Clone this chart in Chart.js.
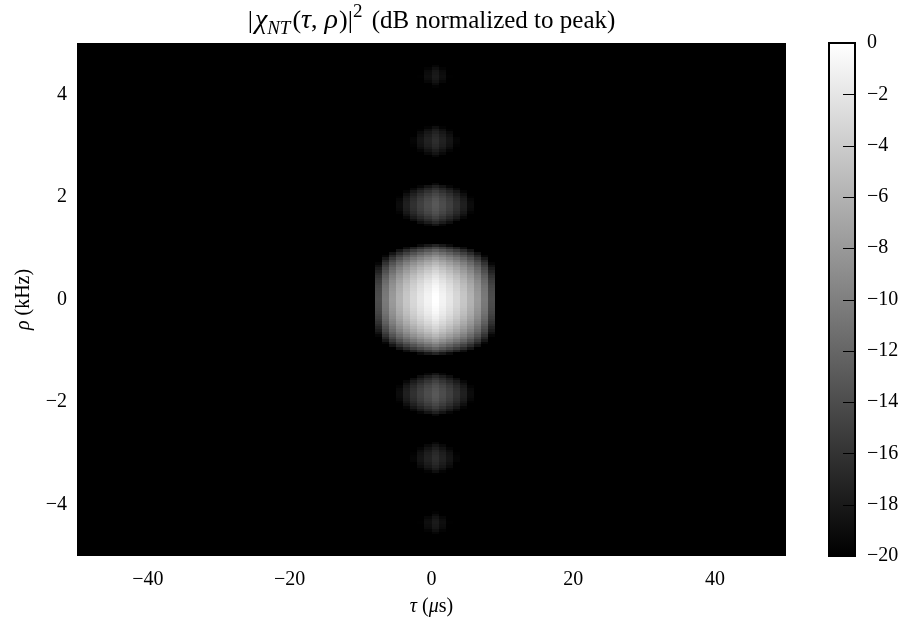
<!DOCTYPE html>
<html>
<head>
<meta charset="utf-8">
<script src="https://cdn.jsdelivr.net/npm/chart.js@4.4.1/dist/chart.umd.min.js"></script>
<style>
    html, body { margin: 0; padding: 0; background: #fff; }
    #wrap { position: relative; width: 902px; height: 620px; }
    #wrap canvas { position: absolute; left: 0; top: 0; }
</style>
</head>
<body>
<div id="wrap">
    <canvas id="map" width="902" height="620"></canvas>
    <canvas id="bar" width="902" height="620"></canvas>
</div>
<script>
const SERIF = '"Liberation Serif", "Times New Roman", serif';

// delay columns (µs), each cell spans [tau, tau + 1]
const tauColumns = [-8, -7, -6, -5, -4, -3, -2, -1, 0, 1, 2, 3, 4, 5, 6, 7, 8];
// level across delay, read along the rho = 0 row (dB)
const tauProfileDb = [-13.98, -10.46, -7.96, -6.02, -4.44, -3.10, -1.94, -0.92, 0,
                      -0.92, -1.94, -3.10, -4.44, -6.02, -7.96, -10.46, -13.98];

// Doppler rows (kHz), positive half; the picture is mirrored about rho = 0
const rhoRows = [0, 0.05, 0.10, 0.15, 0.20, 0.25, 0.30, 0.35, 0.40, 0.45, 0.50,
                 0.55, 0.60, 0.65, 0.70, 0.75, 0.80, 0.85, 0.90, 0.95, 1.00, 1.05,
                 1.45, 1.50, 1.55, 1.60, 1.65, 1.70, 1.75, 1.80, 1.85, 1.90, 1.95,
                 2.00, 2.05, 2.10, 2.15, 2.20, 2.25,
                 2.80, 2.85, 2.90, 2.95, 3.00, 3.05, 3.10, 3.15, 3.20, 3.25, 3.30, 3.35, 3.40,
                 4.15, 4.20, 4.25, 4.30, 4.35, 4.40, 4.45, 4.50, 4.55];
// level across Doppler, read along the tau = 0 column (dB)
const rhoProfileDb = [0, -0.03, -0.10, -0.22, -0.40, -0.63, -0.91, -1.25, -1.65, -2.11, -2.64,
                      -3.24, -3.92, -4.69, -5.56, -6.55, -7.67, -8.96, -10.45, -12.22, -14.38, -17.13,
                      -18.45, -16.9, -15.8, -14.9, -14.2, -13.7, -13.3, -13.15, -13.1, -13.2, -13.45,
                      -13.85, -14.4, -15.2, -16.2, -17.5, -19.2,
                      -19.4, -18.4, -17.7, -17.1, -16.75, -16.55, -16.5, -16.6, -16.9, -17.3, -17.9, -18.8, -19.9,
                      -19.8, -19.1, -18.5, -18.15, -18.0, -18.1, -18.3, -18.8, -19.5];

const xTicks = [-40, -20, 0, 20, 40];
const yTicks = [-4, -2, 0, 2, 4];
const colorbarTicks = [0, -2, -4, -6, -8, -10, -12, -14, -16, -18, -20];

const dbFloor = -20;
const rowHalf = 0.025;

function fmt(v) {
    return v < 0 ? "\u2212" + Math.abs(v) : String(v);
}

function gray(db) {
    const t = Math.max(0, Math.min(1, (db - dbFloor) / -dbFloor));
    const g = Math.round(t * 255);
    return "rgb(" + g + "," + g + "," + g + ")";
}

function buildCells() {
    const cells = [];
    rhoRows.forEach((rho, j) => {
        const signs = rho === 0 ? [1] : [1, -1];
        signs.forEach(s => {
            tauColumns.forEach((tau, i) => {
                const v = tauProfileDb[i] + rhoProfileDb[j];
                if (v > dbFloor) cells.push({ x: tau, y: s * rho, v: v });
            });
        });
    });
    return cells;
}

// draws a line of mixed-font text pieces centred on cx
function drawRuns(ctx, runs, cx, baseline) {
    let total = 0;
    runs.forEach(r => {
        ctx.font = r.font;
        r.w = ctx.measureText(r.text).width + (r.gap || 0);
        total += r.w;
    });
    let x = cx - total / 2;
    runs.forEach(r => {
        ctx.font = r.font;
        ctx.fillText(r.text, x, baseline + (r.dy || 0));
        x += r.w;
    });
}

const heatmapPlugin = {
    id: "heatmap",
    beforeDatasetsDraw(chart) {
        const { ctx, chartArea } = chart;
        const xs = chart.scales.x, ys = chart.scales.y;
        ctx.save();
        ctx.fillStyle = "#000";
        ctx.fillRect(chartArea.left, chartArea.top, chartArea.width, chartArea.height);
        chart.data.datasets[0].data.forEach(c => {
            const x0 = Math.round(xs.getPixelForValue(c.x));
            const x1 = Math.round(xs.getPixelForValue(c.x + 1));
            const y0 = Math.round(ys.getPixelForValue(c.y + rowHalf));
            const y1 = Math.round(ys.getPixelForValue(c.y - rowHalf));
            ctx.fillStyle = gray(c.v);
            ctx.fillRect(x0, y0, x1 - x0, y1 - y0);
        });
        ctx.restore();
    },
    afterDraw(chart) {
        const { ctx, chartArea } = chart;
        ctx.save();
        ctx.strokeStyle = "#000";
        ctx.lineWidth = 1;
        ctx.strokeRect(chartArea.left + 0.5, chartArea.top + 0.5, chartArea.width - 1, chartArea.height - 1);

        ctx.fillStyle = "#000";
        ctx.textBaseline = "alphabetic";
        const cx = (chartArea.left + chartArea.right) / 2;
        const txt = "25px " + SERIF, up = "26px " + SERIF, mi = "italic 28px " + SERIF;
        const sub = "italic 19px " + SERIF, sup = "19px " + SERIF;
        drawRuns(ctx, [
            { text: "|", font: up, gap: 2 },
            { text: "\u03c7", font: mi },
            { text: "NT", font: sub, dy: 6, gap: 2 },
            { text: "(", font: up },
            { text: "\u03c4", font: mi },
            { text: ",", font: up, gap: 7 },
            { text: "\u03c1", font: mi, gap: 1 },
            { text: ")|", font: up },
            { text: "2", font: sup, dy: -11, gap: 3 },
            { text: " (dB normalized to peak)", font: txt }
        ], cx, 28);

        const lab = "20px " + SERIF, labI = "italic 20px " + SERIF;
        drawRuns(ctx, [
            { text: "\u03c4", font: labI },
            { text: " (", font: lab },
            { text: "\u03bc", font: labI },
            { text: "s)", font: lab }
        ], cx, 612);

        ctx.translate(29, (chartArea.top + chartArea.bottom) / 2);
        ctx.rotate(-Math.PI / 2);
        drawRuns(ctx, [
            { text: "\u03c1", font: labI },
            { text: " (kHz)", font: lab }
        ], 0, 0);
        ctx.restore();
    }
};

new Chart(document.getElementById("map"), {
    type: "scatter",
    data: {
        datasets: [{
            data: buildCells(),
            pointRadius: 0,
            pointHoverRadius: 0
        }]
    },
    options: {
        responsive: false,
        animation: false,
        events: [],
        layout: { padding: { left: 0, top: 43, right: 116, bottom: 0 } },
        plugins: { legend: { display: false }, tooltip: { enabled: false } },
        scales: {
            x: {
                type: "linear",
                min: -50,
                max: 50,
                afterBuildTicks: s => { s.ticks = xTicks.map(v => ({ value: v })); },
                afterFit: s => { s.height = 64; },
                grid: { display: false, drawTicks: false },
                border: { display: false },
                ticks: {
                    autoSkip: false,
                    maxRotation: 0,
                    padding: 12,
                    color: "#000",
                    font: { family: SERIF, size: 20 },
                    callback: v => fmt(v)
                }
            },
            y: {
                type: "linear",
                min: -5,
                max: 5,
                afterBuildTicks: s => { s.ticks = yTicks.map(v => ({ value: v })); },
                afterFit: s => { s.width = 77; },
                grid: { display: false, drawTicks: false },
                border: { display: false },
                ticks: {
                    autoSkip: false,
                    padding: 10,
                    color: "#000",
                    font: { family: SERIF, size: 20 },
                    callback: v => fmt(v)
                }
            }
        }
    },
    plugins: [heatmapPlugin]
});

const colorbarPlugin = {
    id: "colorbarFrame",
    afterDraw(chart) {
        const { ctx, chartArea } = chart;
        const ys = chart.scales.y;
        ctx.save();
        ctx.strokeStyle = "#000";
        ctx.lineWidth = 1;
        colorbarTicks.forEach(v => {
            const y = Math.round(ys.getPixelForValue(v)) + 0.5;
            ctx.beginPath();
            ctx.moveTo(chartArea.right, y);
            ctx.lineTo(chartArea.right - 12, y);
            ctx.stroke();
        });
        ctx.lineWidth = 2;
        ctx.strokeRect(chartArea.left, chartArea.top, chartArea.width, chartArea.height);
        ctx.restore();
    }
};

new Chart(document.getElementById("bar"), {
    type: "bar",
    data: {
        labels: [""],
        datasets: [{
            data: [[dbFloor, 0]],
            borderWidth: 0,
            barPercentage: 1,
            categoryPercentage: 1,
            backgroundColor: context => {
                const { ctx, chartArea } = context.chart;
                if (!chartArea) return "#888";
                const g = ctx.createLinearGradient(0, chartArea.bottom, 0, chartArea.top);
                g.addColorStop(0, "#000");
                g.addColorStop(1, "#fff");
                return g;
            }
        }]
    },
    options: {
        responsive: false,
        animation: false,
        events: [],
        layout: { padding: { left: 829, top: 43, right: 0, bottom: 64 } },
        plugins: { legend: { display: false }, tooltip: { enabled: false } },
        scales: {
            x: { display: false },
            y: {
                position: "right",
                min: dbFloor,
                max: 0,
                afterBuildTicks: s => { s.ticks = colorbarTicks.map(v => ({ value: v })); },
                afterFit: s => { s.width = 47; },
                grid: { display: false, drawTicks: false },
                border: { display: false },
                ticks: {
                    autoSkip: false,
                    padding: 12,
                    color: "#000",
                    font: { family: SERIF, size: 20 },
                    callback: v => fmt(v)
                }
            }
        }
    },
    plugins: [colorbarPlugin]
});
</script>
</body>
</html>
